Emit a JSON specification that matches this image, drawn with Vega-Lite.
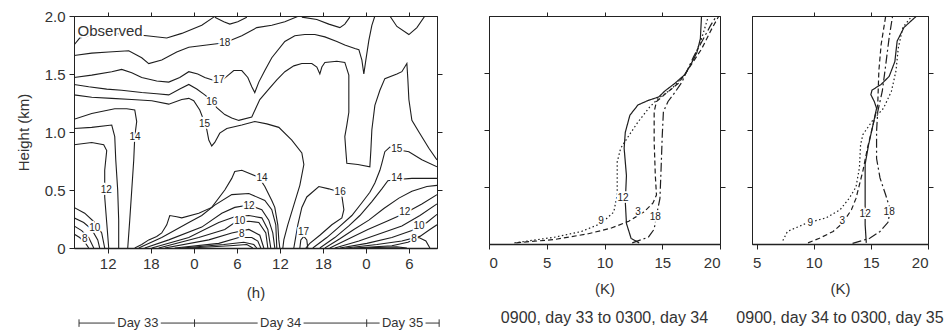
{
"$schema": "https://vega.github.io/schema/vega-lite/v6.json",
"padding": {"left": 15, "top": 8, "right": 0, "bottom": 0},
"background": "white",
"spacing": 52,
"bounds": "flush",
"config": {
 "view": {"stroke": "#2a2a2a", "strokeWidth": 1},
 "font": "Liberation Sans",
 "axis": {"labelFont": "Liberation Sans", "titleFont": "Liberation Sans", "labelFontSize": 15, "titleFontSize": 15, "titleFontWeight": "normal", "labelColor": "#333", "titleColor": "#333", "domainColor": "#222", "tickColor": "#222", "grid": false, "tickSize": 5, "labelPadding": 3},
 "title": {"font": "Liberation Sans", "fontSize": 16, "fontWeight": "normal", "color": "#333"}
},
"datasets": {
 "ct": [
  {"c":"19","h":7.3,"z":1.75},{"c":"19","h":8.09,"z":1.81},{"c":"19","h":10.47,"z":1.84},{"c":"19","h":13.95,"z":1.85},{"c":"19","h":17.44,"z":1.83},{"c":"19","h":20.23,"z":1.81},{"c":"19","h":22.32,"z":1.85},{"c":"19","h":25.11,"z":1.92},{"c":"19","h":26.78,"z":1.99},
  {"c":"18","h":7.3,"z":1.66},{"c":"18","h":9.77,"z":1.68},{"c":"18","h":12.14,"z":1.69},{"c":"18","h":14.93,"z":1.7},{"c":"18","h":16.74,"z":1.64},{"c":"18","h":17.72,"z":1.59},{"c":"18","h":19.53,"z":1.62},{"c":"18","h":21.62,"z":1.69},{"c":"18","h":23.3,"z":1.73},{"c":"18","h":25.81,"z":1.75},{"c":"18","h":28.32,"z":1.77},{"c":"18","h":30.69,"z":1.83},{"c":"18","h":32.78,"z":1.9},{"c":"18","h":34.87,"z":1.92},{"c":"18","h":36.69,"z":1.95},{"c":"18","h":38.64,"z":2.0},
  {"c":"t1","h":26.92,"z":1.99},{"c":"t1","h":28.18,"z":1.95},{"c":"t1","h":29.02,"z":1.93},{"c":"t1","h":30.13,"z":1.95},{"c":"t1","h":31.39,"z":1.99},
  {"c":"t2","h":39.06,"z":1.99},{"c":"t2","h":41.15,"z":1.97},{"c":"t2","h":42.82,"z":1.93},{"c":"t2","h":44.36,"z":1.9},{"c":"t2","h":45.05,"z":1.93},{"c":"t2","h":45.75,"z":1.99},
  {"c":"t3","h":51.33,"z":2.0},{"c":"t3","h":52.31,"z":1.91},{"c":"t3","h":53.98,"z":1.84},{"c":"t3","h":55.1,"z":1.9},{"c":"t3","h":56.21,"z":2.0},
  {"c":"17","h":7.3,"z":1.47},{"c":"17","h":9.77,"z":1.49},{"c":"17","h":12.56,"z":1.52},{"c":"17","h":13.95,"z":1.54},{"c":"17","h":15.35,"z":1.51},{"c":"17","h":16.74,"z":1.47},{"c":"17","h":18.83,"z":1.44},{"c":"17","h":20.51,"z":1.43},{"c":"17","h":22.04,"z":1.47},{"c":"17","h":23.3,"z":1.52},{"c":"17","h":24.55,"z":1.5},{"c":"17","h":25.53,"z":1.47},{"c":"17","h":26.5,"z":1.45},{"c":"17","h":27.62,"z":1.43},{"c":"17","h":28.6,"z":1.48},{"c":"17","h":29.57,"z":1.53},{"c":"17","h":30.69,"z":1.53},{"c":"17","h":31.53,"z":1.47},{"c":"17","h":32.08,"z":1.39},{"c":"17","h":32.5,"z":1.34},{"c":"17","h":33.06,"z":1.43},{"c":"17","h":33.9,"z":1.53},{"c":"17","h":34.87,"z":1.64},{"c":"17","h":36.69,"z":1.78},{"c":"17","h":38.08,"z":1.83},{"c":"17","h":39.48,"z":1.84},{"c":"17","h":40.87,"z":1.84},{"c":"17","h":42.27,"z":1.82},{"c":"17","h":43.94,"z":1.78},{"c":"17","h":45.05,"z":1.75},{"c":"17","h":46.45,"z":1.72},{"c":"17","h":47.01,"z":1.71},{"c":"17","h":47.43,"z":1.62},{"c":"17","h":47.7,"z":1.5},{"c":"17","h":47.98,"z":1.62},{"c":"17","h":48.4,"z":1.79},{"c":"17","h":48.82,"z":1.92},{"c":"17","h":49.24,"z":2.0},
  {"c":"16","h":7.3,"z":1.41},{"c":"16","h":9.35,"z":1.39},{"c":"16","h":11.86,"z":1.37},{"c":"16","h":13.95,"z":1.36},{"c":"16","h":16.74,"z":1.34},{"c":"16","h":18.83,"z":1.33},{"c":"16","h":20.51,"z":1.32},{"c":"16","h":22.04,"z":1.37},{"c":"16","h":23.3,"z":1.41},{"c":"16","h":24.41,"z":1.37},{"c":"16","h":25.53,"z":1.32},{"c":"16","h":26.5,"z":1.27},{"c":"16","h":27.2,"z":1.21},{"c":"16","h":28.32,"z":1.15},{"c":"16","h":29.29,"z":1.12},{"c":"16","h":30.27,"z":1.1},{"c":"16","h":32.08,"z":1.13},{"c":"16","h":33.2,"z":1.28},{"c":"16","h":34.45,"z":1.37},{"c":"16","h":35.57,"z":1.45},{"c":"16","h":36.69,"z":1.52},{"c":"16","h":37.94,"z":1.57},{"c":"16","h":39.06,"z":1.59},{"c":"16","h":40.45,"z":1.59},{"c":"16","h":41.15,"z":1.56},{"c":"16","h":41.57,"z":1.5},{"c":"16","h":41.85,"z":1.56},{"c":"16","h":42.27,"z":1.6},{"c":"16","h":43.94,"z":1.61},{"c":"16","h":45.05,"z":1.6},{"c":"16","h":45.61,"z":1.49},{"c":"16","h":45.61,"z":1.32},{"c":"16","h":45.61,"z":1.17},{"c":"16","h":45.33,"z":1.06},{"c":"16","h":45.05,"z":0.96},{"c":"16","h":45.19,"z":0.84},{"c":"16","h":45.33,"z":0.73},{"c":"16","h":46.87,"z":0.72},{"c":"16","h":48.54,"z":0.7},{"c":"16","h":48.68,"z":0.84},{"c":"16","h":48.82,"z":1.02},{"c":"16","h":49.24,"z":1.23},{"c":"16","h":49.94,"z":1.36},{"c":"16","h":50.63,"z":1.46},{"c":"16","h":52.31,"z":1.5},{"c":"16","h":53.0,"z":1.52},{"c":"16","h":53.7,"z":1.59},{"c":"16","h":53.84,"z":1.45},{"c":"16","h":53.98,"z":1.28},{"c":"16","h":54.4,"z":1.1},{"c":"16","h":55.38,"z":1.0},{"c":"16","h":56.77,"z":0.86},{"c":"16","h":57.9,"z":0.76},
  {"c":"15","h":7.3,"z":1.32},{"c":"15","h":9.77,"z":1.3},{"c":"15","h":12.56,"z":1.29},{"c":"15","h":15.35,"z":1.28},{"c":"15","h":18.14,"z":1.27},{"c":"15","h":20.51,"z":1.24},{"c":"15","h":22.32,"z":1.28},{"c":"15","h":23.3,"z":1.29},{"c":"15","h":23.99,"z":1.27},{"c":"15","h":24.83,"z":1.19},{"c":"15","h":25.39,"z":1.1},{"c":"15","h":25.81,"z":1.02},{"c":"15","h":26.09,"z":0.93},{"c":"15","h":26.5,"z":0.88},{"c":"15","h":26.92,"z":0.91},{"c":"15","h":27.62,"z":0.99},{"c":"15","h":28.6,"z":1.03},{"c":"15","h":30.69,"z":1.06},{"c":"15","h":32.5,"z":1.09},{"c":"15","h":34.18,"z":1.07},{"c":"15","h":35.85,"z":1.04},{"c":"15","h":37.66,"z":0.93},{"c":"15","h":39.06,"z":0.82},{"c":"15","h":39.34,"z":0.72},{"c":"15","h":38.78,"z":0.54},{"c":"15","h":37.94,"z":0.37},{"c":"15","h":37.1,"z":0.2},{"c":"15","h":36.55,"z":0.07},{"c":"15","h":36.41,"z":0.0},
  {"c":"14a","h":7.3,"z":1.11},{"c":"14a","h":9.77,"z":1.16},{"c":"14a","h":12.98,"z":1.2},{"c":"14a","h":14.65,"z":1.2},{"c":"14a","h":15.77,"z":1.19},{"c":"14a","h":16.04,"z":1.09},{"c":"14a","h":15.77,"z":0.96},{"c":"14a","h":15.63,"z":0.76},{"c":"14a","h":15.35,"z":0.5},{"c":"14a","h":15.07,"z":0.24},{"c":"14a","h":14.79,"z":0.0},
  {"c":"13a","h":7.3,"z":1.03},{"c":"13a","h":9.77,"z":1.04},{"c":"13a","h":12.56,"z":1.06},{"c":"13a","h":12.98,"z":0.96},{"c":"13a","h":13.12,"z":0.76},{"c":"13a","h":13.39,"z":0.5},{"c":"13a","h":13.53,"z":0.24},{"c":"13a","h":13.53,"z":0.0},
  {"c":"12a","h":7.3,"z":0.89},{"c":"12a","h":9.77,"z":0.91},{"c":"12a","h":11.44,"z":0.89},{"c":"12a","h":11.86,"z":0.84},{"c":"12a","h":11.58,"z":0.67},{"c":"12a","h":11.58,"z":0.44},{"c":"12a","h":11.86,"z":0.22},{"c":"12a","h":12.14,"z":0.0},
  {"c":"11a","h":7.3,"z":0.35},{"c":"11a","h":8.79,"z":0.3},{"c":"11a","h":10.19,"z":0.22},{"c":"11a","h":11.16,"z":0.13},{"c":"11a","h":11.58,"z":0.0},
  {"c":"10a","h":7.3,"z":0.26},{"c":"10a","h":8.65,"z":0.22},{"c":"10a","h":9.77,"z":0.16},{"c":"10a","h":10.61,"z":0.07},{"c":"10a","h":10.88,"z":0.0},
  {"c":"9a","h":7.3,"z":0.19},{"c":"9a","h":8.37,"z":0.15},{"c":"9a","h":9.35,"z":0.09},{"c":"9a","h":10.05,"z":0.0},
  {"c":"8a","h":7.3,"z":0.12},{"c":"8a","h":8.09,"z":0.09},{"c":"8a","h":8.93,"z":0.04},{"c":"8a","h":9.35,"z":0.0},
  {"c":"14b","h":15.77,"z":0.0},{"c":"14b","h":16.74,"z":0.03},{"c":"14b","h":17.72,"z":0.07},{"c":"14b","h":18.83,"z":0.1},{"c":"14b","h":19.53,"z":0.13},{"c":"14b","h":20.23,"z":0.2},{"c":"14b","h":20.65,"z":0.28},{"c":"14b","h":21.62,"z":0.27},{"c":"14b","h":22.32,"z":0.26},{"c":"14b","h":24.69,"z":0.3},{"c":"14b","h":26.5,"z":0.35},{"c":"14b","h":28.32,"z":0.5},{"c":"14b","h":29.29,"z":0.6},{"c":"14b","h":29.71,"z":0.66},{"c":"14b","h":30.69,"z":0.67},{"c":"14b","h":33.06,"z":0.61},{"c":"14b","h":33.9,"z":0.53},{"c":"14b","h":34.87,"z":0.41},{"c":"14b","h":35.29,"z":0.35},{"c":"14b","h":35.71,"z":0.2},{"c":"14b","h":35.85,"z":0.07},{"c":"14b","h":35.99,"z":0.0},
  {"c":"13b","h":16.32,"z":0.0},{"c":"13b","h":19.53,"z":0.09},{"c":"13b","h":23.3,"z":0.22},{"c":"13b","h":25.11,"z":0.28},{"c":"13b","h":26.92,"z":0.37},{"c":"13b","h":29.29,"z":0.46},{"c":"13b","h":31.67,"z":0.47},{"c":"13b","h":33.9,"z":0.41},{"c":"13b","h":34.87,"z":0.33},{"c":"13b","h":35.43,"z":0.2},{"c":"13b","h":35.57,"z":0.0},
  {"c":"12b","h":17.16,"z":0.0},{"c":"12b","h":20.51,"z":0.07},{"c":"12b","h":25.11,"z":0.18},{"c":"12b","h":27.9,"z":0.3},{"c":"12b","h":29.71,"z":0.35},{"c":"12b","h":31.67,"z":0.37},{"c":"12b","h":33.48,"z":0.33},{"c":"12b","h":34.45,"z":0.24},{"c":"12b","h":35.01,"z":0.13},{"c":"12b","h":35.29,"z":0.0},
  {"c":"11b","h":18.14,"z":0.0},{"c":"11b","h":23.3,"z":0.09},{"c":"11b","h":27.48,"z":0.22},{"c":"11b","h":29.71,"z":0.27},{"c":"11b","h":31.67,"z":0.28},{"c":"11b","h":33.48,"z":0.26},{"c":"11b","h":34.32,"z":0.16},{"c":"11b","h":34.73,"z":0.0},
  {"c":"10b","h":19.11,"z":0.0},{"c":"10b","h":24.69,"z":0.09},{"c":"10b","h":28.32,"z":0.16},{"c":"10b","h":29.71,"z":0.22},{"c":"10b","h":31.67,"z":0.23},{"c":"10b","h":33.06,"z":0.22},{"c":"10b","h":34.04,"z":0.13},{"c":"10b","h":34.32,"z":0.0},
  {"c":"9b","h":19.95,"z":0.0},{"c":"9b","h":26.09,"z":0.07},{"c":"9b","h":29.29,"z":0.13},{"c":"9b","h":31.67,"z":0.16},{"c":"9b","h":33.2,"z":0.11},{"c":"9b","h":33.76,"z":0.0},
  {"c":"8b","h":21.34,"z":0.0},{"c":"8b","h":27.48,"z":0.04},{"c":"8b","h":30.27,"z":0.09},{"c":"8b","h":32.08,"z":0.09},{"c":"8b","h":32.92,"z":0.06},{"c":"8b","h":33.34,"z":0.0},
  {"c":"7b","h":22.32,"z":0.0},{"c":"7b","h":28.18,"z":0.03},{"c":"7b","h":30.97,"z":0.05},{"c":"7b","h":32.36,"z":0.03},{"c":"7b","h":32.78,"z":0.0},
  {"c":"6b","h":23.44,"z":0.0},{"c":"6b","h":29.02,"z":0.02},{"c":"6b","h":31.39,"z":0.03},{"c":"6b","h":32.22,"z":0.0},
  {"c":"16c","h":37.94,"z":0.0},{"c":"16c","h":38.5,"z":0.2},{"c":"16c","h":39.06,"z":0.35},{"c":"16c","h":39.75,"z":0.44},{"c":"16c","h":41.43,"z":0.53},{"c":"16c","h":42.82,"z":0.51},{"c":"16c","h":43.94,"z":0.49},{"c":"16c","h":44.64,"z":0.45},{"c":"16c","h":44.92,"z":0.33},{"c":"16c","h":44.64,"z":0.26},{"c":"16c","h":43.24,"z":0.2},{"c":"16c","h":41.57,"z":0.11},{"c":"16c","h":40.17,"z":0.04},{"c":"16c","h":39.62,"z":0.0},
  {"c":"17c","h":38.78,"z":0.0},{"c":"17c","h":38.92,"z":0.07},{"c":"17c","h":39.34,"z":0.1},{"c":"17c","h":39.75,"z":0.07},{"c":"17c","h":39.89,"z":0.0},
  {"c":"15c","h":40.59,"z":0.0},{"c":"15c","h":42.54,"z":0.09},{"c":"15c","h":44.22,"z":0.18},{"c":"15c","h":46.03,"z":0.28},{"c":"15c","h":47.43,"z":0.39},{"c":"15c","h":48.54,"z":0.48},{"c":"15c","h":49.24,"z":0.56},{"c":"15c","h":49.94,"z":0.67},{"c":"15c","h":50.21,"z":0.73},{"c":"15c","h":50.63,"z":0.83},{"c":"15c","h":51.33,"z":0.87},{"c":"15c","h":53.0,"z":0.84},{"c":"15c","h":53.98,"z":0.83},{"c":"15c","h":55.79,"z":0.76},{"c":"15c","h":57.9,"z":0.7},
  {"c":"14c","h":41.57,"z":0.0},{"c":"14c","h":43.66,"z":0.09},{"c":"14c","h":45.61,"z":0.19},{"c":"14c","h":47.15,"z":0.28},{"c":"14c","h":48.82,"z":0.4},{"c":"14c","h":50.21,"z":0.51},{"c":"14c","h":51.05,"z":0.58},{"c":"14c","h":52.31,"z":0.59},{"c":"14c","h":54.4,"z":0.6},{"c":"14c","h":57.9,"z":0.6},
  {"c":"13c","h":42.27,"z":0.0},{"c":"13c","h":44.36,"z":0.08},{"c":"13c","h":46.31,"z":0.16},{"c":"13c","h":48.4,"z":0.24},{"c":"13c","h":50.49,"z":0.34},{"c":"13c","h":52.59,"z":0.43},{"c":"13c","h":54.4,"z":0.49},{"c":"13c","h":56.49,"z":0.53},{"c":"13c","h":57.9,"z":0.54},
  {"c":"12c","h":42.96,"z":0.0},{"c":"12c","h":45.61,"z":0.08},{"c":"12c","h":48.26,"z":0.16},{"c":"12c","h":50.91,"z":0.23},{"c":"12c","h":53.42,"z":0.3},{"c":"12c","h":55.79,"z":0.38},{"c":"12c","h":57.9,"z":0.46},
  {"c":"11c","h":43.66,"z":0.0},{"c":"11c","h":47.01,"z":0.06},{"c":"11c","h":50.21,"z":0.13},{"c":"11c","h":53.0,"z":0.19},{"c":"11c","h":55.52,"z":0.28},{"c":"11c","h":57.9,"z":0.38},
  {"c":"10c","h":44.36,"z":0.0},{"c":"10c","h":48.12,"z":0.04},{"c":"10c","h":51.61,"z":0.09},{"c":"10c","h":54.4,"z":0.15},{"c":"10c","h":56.49,"z":0.22},{"c":"10c","h":57.9,"z":0.29},
  {"c":"9c","h":45.19,"z":0.0},{"c":"9c","h":49.52,"z":0.03},{"c":"9c","h":53.0,"z":0.06},{"c":"9c","h":55.52,"z":0.1},{"c":"9c","h":56.91,"z":0.16},{"c":"9c","h":57.9,"z":0.2},
  {"c":"8c","h":46.31,"z":0.0},{"c":"8c","h":51.61,"z":0.02},{"c":"8c","h":53.84,"z":0.05},{"c":"8c","h":55.38,"z":0.09},{"c":"8c","h":56.35,"z":0.06},{"c":"8c","h":56.91,"z":0.0},
  {"c":"7c","h":47.15,"z":0.0},{"c":"7c","h":52.31,"z":0.01},{"c":"7c","h":53.7,"z":0.0}
 ],
 "cl": [
  {"t":"18","h":28.32,"z":1.77},{"t":"17","h":27.5,"z":1.45},{"t":"16","h":26.5,"z":1.26},{"t":"15","h":25.5,"z":1.07},{"t":"14","h":15.8,"z":0.96},{"t":"12","h":11.8,"z":0.5},{"t":"10","h":10.2,"z":0.17},{"t":"8","h":8.8,"z":0.08},
  {"t":"14","h":33.5,"z":0.6},{"t":"12","h":31.7,"z":0.36},{"t":"10","h":30.4,"z":0.23},{"t":"8","h":30.7,"z":0.12},
  {"t":"16","h":44.4,"z":0.48},{"t":"17","h":39.3,"z":0.14},{"t":"15","h":52.3,"z":0.85},{"t":"14","h":52.3,"z":0.6},{"t":"12","h":53.4,"z":0.31},{"t":"10","h":55.4,"z":0.19},{"t":"8","h":54.7,"z":0.08}
 ],
 "dayseg": [{"a":8.0,"b":13.0},{"a":19.4,"b":24.1},{"a":24.1,"b":32.9},{"a":39.3,"b":48.1},{"a":48.1,"b":49.9},{"a":56.3,"b":58.2}],
 "daytick": [{"h":8.0},{"h":24.1},{"h":48.1},{"h":58.2}],
 "daytxt": [{"t":"Day 33","h":16.2},{"t":"Day 34","h":36.1},{"t":"Day 35","h":53.1}],
 "mid": [
  {"s":"9","T":2.2,"z":0.01},{"s":"9","T":5.7,"z":0.06},{"s":"9","T":8.0,"z":0.11},{"s":"9","T":9.7,"z":0.18},{"s":"9","T":10.8,"z":0.28},{"s":"9","T":11.1,"z":0.43},{"s":"9","T":11.1,"z":0.72},{"s":"9","T":11.4,"z":0.84},{"s":"9","T":12.1,"z":0.95},{"s":"9","T":12.9,"z":1.07},{"s":"9","T":13.9,"z":1.2},{"s":"9","T":14.7,"z":1.28},{"s":"9","T":15.8,"z":1.36},{"s":"9","T":17.0,"z":1.49},{"s":"9","T":17.6,"z":1.6},{"s":"9","T":18.4,"z":1.8},{"s":"9","T":19.0,"z":2.0},
  {"s":"12","T":13.0,"z":0.01},{"s":"12","T":12.3,"z":0.05},{"s":"12","T":11.9,"z":0.18},{"s":"12","T":11.8,"z":0.37},{"s":"12","T":11.9,"z":0.6},{"s":"12","T":11.7,"z":0.84},{"s":"12","T":11.8,"z":0.98},{"s":"12","T":12.2,"z":1.13},{"s":"12","T":12.9,"z":1.22},{"s":"12","T":13.8,"z":1.26},{"s":"12","T":14.7,"z":1.29},{"s":"12","T":15.2,"z":1.34},{"s":"12","T":16.1,"z":1.41},{"s":"12","T":17.0,"z":1.49},{"s":"12","T":17.6,"z":1.6},{"s":"12","T":18.0,"z":1.68},{"s":"12","T":18.3,"z":1.8},{"s":"12","T":18.4,"z":2.0},
  {"s":"3","T":2.35,"z":0.01},{"s":"3","T":5.7,"z":0.04},{"s":"3","T":8.6,"z":0.09},{"s":"3","T":10.6,"z":0.14},{"s":"3","T":12.1,"z":0.2},{"s":"3","T":13.4,"z":0.28},{"s":"3","T":14.2,"z":0.36},{"s":"3","T":14.5,"z":0.43},{"s":"3","T":14.4,"z":0.6},{"s":"3","T":14.3,"z":0.9},{"s":"3","T":14.3,"z":1.16},{"s":"3","T":14.5,"z":1.25},{"s":"3","T":15.2,"z":1.31},{"s":"3","T":16.4,"z":1.41},{"s":"3","T":17.3,"z":1.54},{"s":"3","T":18.4,"z":1.71},{"s":"3","T":19.3,"z":1.89},{"s":"3","T":19.9,"z":2.0},
  {"s":"18","T":12.4,"z":0.01},{"s":"18","T":13.8,"z":0.06},{"s":"18","T":14.3,"z":0.13},{"s":"18","T":14.5,"z":0.25},{"s":"18","T":14.8,"z":0.4},{"s":"18","T":14.9,"z":0.66},{"s":"18","T":15.0,"z":0.95},{"s":"18","T":15.1,"z":1.16},{"s":"18","T":15.5,"z":1.25},{"s":"18","T":16.1,"z":1.33},{"s":"18","T":16.7,"z":1.42},{"s":"18","T":17.1,"z":1.51},{"s":"18","T":17.7,"z":1.64},{"s":"18","T":18.4,"z":1.77},{"s":"18","T":19.2,"z":1.92},{"s":"18","T":19.7,"z":2.0}
 ],
 "midlab": [{"t":"9","T":9.7,"z":0.2},{"t":"12","T":11.6,"z":0.4},{"t":"3","T":12.9,"z":0.28},{"t":"18","T":14.4,"z":0.24}],
 "rgt": [
  {"s":"9","T":7.3,"z":0.03},{"s":"9","T":7.7,"z":0.11},{"s":"9","T":9.3,"z":0.18},{"s":"9","T":11.1,"z":0.23},{"s":"9","T":12.3,"z":0.3},{"s":"9","T":13.1,"z":0.4},{"s":"9","T":13.7,"z":0.5},{"s":"9","T":14.0,"z":0.67},{"s":"9","T":14.1,"z":0.87},{"s":"9","T":14.3,"z":0.96},{"s":"9","T":15.2,"z":1.09},{"s":"9","T":16.1,"z":1.19},{"s":"9","T":16.8,"z":1.34},{"s":"9","T":17.2,"z":1.52},{"s":"9","T":17.4,"z":1.72},{"s":"9","T":17.8,"z":1.9},{"s":"9","T":18.6,"z":2.0},
  {"s":"3","T":9.5,"z":0.01},{"s":"3","T":10.5,"z":0.05},{"s":"3","T":11.7,"z":0.11},{"s":"3","T":12.5,"z":0.18},{"s":"3","T":13.3,"z":0.3},{"s":"3","T":13.7,"z":0.4},{"s":"3","T":14.3,"z":0.64},{"s":"3","T":14.7,"z":0.84},{"s":"3","T":15.2,"z":1.05},{"s":"3","T":15.6,"z":1.22},{"s":"3","T":15.7,"z":1.52},{"s":"3","T":15.9,"z":1.75},{"s":"3","T":16.3,"z":2.0},
  {"s":"12","T":14.6,"z":0.01},{"s":"12","T":14.5,"z":0.17},{"s":"12","T":14.5,"z":0.46},{"s":"12","T":14.5,"z":0.7},{"s":"12","T":14.8,"z":0.87},{"s":"12","T":15.2,"z":1.05},{"s":"12","T":15.5,"z":1.19},{"s":"12","T":15.3,"z":1.25},{"s":"12","T":15.0,"z":1.31},{"s":"12","T":15.1,"z":1.35},{"s":"12","T":15.9,"z":1.4},{"s":"12","T":16.6,"z":1.47},{"s":"12","T":17.1,"z":1.6},{"s":"12","T":17.3,"z":1.78},{"s":"12","T":17.9,"z":1.9},{"s":"12","T":19.0,"z":2.0},
  {"s":"18","T":13.4,"z":0.005},{"s":"18","T":14.9,"z":0.05},{"s":"18","T":15.8,"z":0.11},{"s":"18","T":16.5,"z":0.19},{"s":"18","T":16.7,"z":0.3},{"s":"18","T":16.3,"z":0.43},{"s":"18","T":15.8,"z":0.58},{"s":"18","T":15.5,"z":0.75},{"s":"18","T":15.5,"z":0.99},{"s":"18","T":15.6,"z":1.16},{"s":"18","T":16.0,"z":1.34},{"s":"18","T":16.3,"z":1.57},{"s":"18","T":16.6,"z":1.81},{"s":"18","T":16.9,"z":2.0}
 ],
 "rgtlab": [{"t":"9","T":9.7,"z":0.18},{"t":"3","T":12.5,"z":0.2},{"t":"12","T":14.5,"z":0.26},{"t":"18","T":16.6,"z":0.28}]
},
"hconcat": [
 {
  "width": 363, "height": 232,
  "layer": [
   {"data": {"name": "ct"}, "mark": {"type": "line", "stroke": "#1e1e1e", "strokeWidth": 1.1, "clip": true},
    "encoding": {
     "x": {"field": "h", "type": "quantitative", "scale": {"domain": [7.3, 57.9], "nice": false, "zero": false}, "axis": {"orient": "bottom", "values": [12,18,24,30,36,42,48,54], "labelExpr": "datum.value % 24", "title": "(h)", "titlePadding": 14, "domainWidth": 1.6}},
     "y": {"field": "z", "type": "quantitative", "scale": {"domain": [0, 2], "nice": false}, "axis": {"orient": "left", "values": [0,0.5,1,1.5,2], "labelExpr": "datum.value == 0 ? '0' : format(datum.value, '.1f')", "title": "Height (km)", "titlePadding": 13, "labelPadding": 4}},
     "detail": {"field": "c"},
     "order": {"value": null}}},
   {"data": {"name": "cl"}, "mark": {"type": "text", "fontSize": 10, "fill": "white", "stroke": "white", "strokeWidth": 3.5},
    "encoding": {"x": {"field": "h", "type": "quantitative", "scale": {"domain": [7.3, 57.9], "nice": false, "zero": false}, "axis": null}, "y": {"field": "z", "type": "quantitative", "scale": {"domain": [0, 2], "nice": false}, "axis": null}, "text": {"field": "t"}}},
   {"data": {"name": "cl"}, "mark": {"type": "text", "fontSize": 10, "fill": "#222"},
    "encoding": {"x": {"field": "h", "type": "quantitative", "scale": {"domain": [7.3, 57.9], "nice": false, "zero": false}, "axis": {"orient": "top", "values": [12,18,24,30,36,42,48,54], "labels": false, "title": null, "tickSize": 4}}, "y": {"field": "z", "type": "quantitative", "scale": {"domain": [0, 2], "nice": false}, "axis": {"orient": "right", "values": [0.5,1,1.5], "labels": false, "title": null}}, "text": {"field": "t"}}},
   {"data": {"values": [{"t": "Observed", "h": 7.8, "z": 1.87}]}, "mark": {"type": "text", "fontSize": 15, "align": "left", "fill": "white", "stroke": "white", "strokeWidth": 4},
    "encoding": {"x": {"field": "h", "type": "quantitative", "axis": null}, "y": {"field": "z", "type": "quantitative", "axis": null}, "text": {"field": "t"}}},
   {"data": {"values": [{"t": "Observed", "h": 7.8, "z": 1.87}]}, "mark": {"type": "text", "fontSize": 15, "align": "left", "fill": "#333"},
    "encoding": {"x": {"field": "h", "type": "quantitative", "axis": null}, "y": {"field": "z", "type": "quantitative", "axis": null}, "text": {"field": "t"}}},
   {"data": {"name": "dayseg"}, "mark": {"type": "rule", "stroke": "#333", "strokeWidth": 1},
    "encoding": {"x": {"field": "a", "type": "quantitative", "axis": null}, "x2": {"field": "b"}, "y": {"datum": -0.647, "axis": null}}},
   {"data": {"name": "daytick"}, "mark": {"type": "rule", "stroke": "#333", "strokeWidth": 1},
    "encoding": {"x": {"field": "h", "type": "quantitative", "axis": null}, "y": {"datum": -0.615, "axis": null}, "y2": {"datum": -0.68}}},
   {"data": {"name": "daytxt"}, "mark": {"type": "text", "fontSize": 13, "fill": "#333", "baseline": "middle"},
    "encoding": {"x": {"field": "h", "type": "quantitative", "axis": null}, "y": {"datum": -0.647, "axis": null}, "text": {"field": "t"}}}
  ],
  "resolve": {"axis": {"x": "independent", "y": "independent"}}
 },
 {
  "spacing": 32,
  "bounds": "flush",
  "hconcat": [
   {
    "width": 231, "height": 228,
    "title": {"text": "0900, day 33 to 0300, day 34", "orient": "bottom", "offset": 14},
    "layer": [
     {"data": {"name": "mid"}, "mark": {"type": "line", "stroke": "#1e1e1e", "strokeWidth": 1.2, "clip": true},
      "encoding": {
       "x": {"field": "T", "type": "quantitative", "scale": {"domain": [0, 20], "nice": false, "zero": false}, "axis": {"orient": "bottom", "values": [0,5,10,15,20], "title": "(K)", "titlePadding": 11, "labelPadding": 6, "domainWidth": 1.6}},
       "y": {"field": "z", "type": "quantitative", "scale": {"domain": [0, 2], "nice": false}, "axis": {"orient": "left", "values": [0.5,1,1.5], "labels": false, "title": null}},
       "strokeDash": {"field": "s", "type": "nominal", "scale": {"domain": ["9","12","3","18"], "range": [[1.5,2.5],[1,0],[5,3],[9,3,2,3]]}, "legend": null},
       "order": {"field": "z", "type": "quantitative"}}},
     {"data": {"name": "midlab"}, "mark": {"type": "text", "fontSize": 10, "fill": "white", "stroke": "white", "strokeWidth": 3.5},
      "encoding": {"x": {"field": "T", "type": "quantitative", "scale": {"domain": [0, 20], "nice": false, "zero": false}, "axis": null}, "y": {"field": "z", "type": "quantitative", "scale": {"domain": [0, 2], "nice": false}, "axis": null}, "text": {"field": "t"}}},
     {"data": {"name": "midlab"}, "mark": {"type": "text", "fontSize": 10, "fill": "#222"},
      "encoding": {"x": {"field": "T", "type": "quantitative", "scale": {"domain": [0, 20], "nice": false, "zero": false}, "axis": {"orient": "top", "values": [5,10,15], "labels": false, "title": null, "tickSize": 4}}, "y": {"field": "z", "type": "quantitative", "scale": {"domain": [0, 2], "nice": false}, "axis": {"orient": "right", "values": [0.5,1,1.5], "labels": false, "title": null}}, "text": {"field": "t"}}}
    ],
    "resolve": {"axis": {"x": "independent", "y": "independent"}}
   },
   {
    "width": 176, "height": 228,
    "title": {"text": "0900, day 34 to 0300, day 35", "orient": "bottom", "offset": 14},
    "layer": [
     {"data": {"name": "rgt"}, "mark": {"type": "line", "stroke": "#1e1e1e", "strokeWidth": 1.2, "clip": true},
      "encoding": {
       "x": {"field": "T", "type": "quantitative", "scale": {"domain": [4.6, 20], "nice": false, "zero": false}, "axis": {"orient": "bottom", "values": [5,10,15,20], "title": "(K)", "titlePadding": 11, "labelPadding": 6, "domainWidth": 1.6}},
       "y": {"field": "z", "type": "quantitative", "scale": {"domain": [0, 2], "nice": false}, "axis": {"orient": "left", "values": [0.5,1,1.5], "labels": false, "title": null}},
       "strokeDash": {"field": "s", "type": "nominal", "scale": {"domain": ["9","12","3","18"], "range": [[1.5,2.5],[1,0],[5,3],[9,3,2,3]]}, "legend": null},
       "order": {"field": "z", "type": "quantitative"}}},
     {"data": {"name": "rgtlab"}, "mark": {"type": "text", "fontSize": 10, "fill": "white", "stroke": "white", "strokeWidth": 3.5},
      "encoding": {"x": {"field": "T", "type": "quantitative", "scale": {"domain": [4.6, 20], "nice": false, "zero": false}, "axis": null}, "y": {"field": "z", "type": "quantitative", "scale": {"domain": [0, 2], "nice": false}, "axis": null}, "text": {"field": "t"}}},
     {"data": {"name": "rgtlab"}, "mark": {"type": "text", "fontSize": 10, "fill": "#222"},
      "encoding": {"x": {"field": "T", "type": "quantitative", "scale": {"domain": [4.6, 20], "nice": false, "zero": false}, "axis": {"orient": "top", "values": [10,15], "labels": false, "title": null, "tickSize": 4}}, "y": {"field": "z", "type": "quantitative", "scale": {"domain": [0, 2], "nice": false}, "axis": {"orient": "right", "values": [0.5,1,1.5], "labels": false, "title": null}}, "text": {"field": "t"}}}
    ],
    "resolve": {"axis": {"x": "independent", "y": "independent"}}
   }
  ]
 }
]
}
